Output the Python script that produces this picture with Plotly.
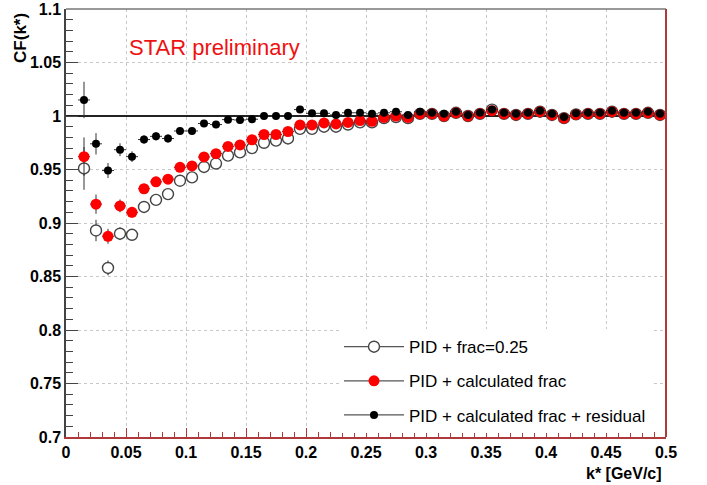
import plotly.graph_objects as go

k = [0.015, 0.025, 0.035, 0.045, 0.055, 0.065, 0.075, 0.085, 0.095, 0.105,
     0.115, 0.125, 0.135, 0.145, 0.155, 0.165, 0.175, 0.185, 0.195, 0.205,
     0.215, 0.225, 0.235, 0.245, 0.255, 0.265, 0.275, 0.285, 0.295, 0.305,
     0.315, 0.325, 0.335, 0.345, 0.355, 0.365, 0.375, 0.385, 0.395, 0.405,
     0.415, 0.425, 0.435, 0.445, 0.455, 0.465, 0.475, 0.485, 0.495]

cf_frac025 = [0.951, 0.893, 0.858, 0.890, 0.889, 0.915, 0.9216, 0.927, 0.9395, 0.9426,
              0.9524, 0.9556, 0.963, 0.966, 0.970, 0.975, 0.977, 0.979, 0.988, 0.988,
              0.990, 0.990, 0.992, 0.994, 0.994, 0.998, 0.999, 0.998, 1.002, 1.002,
              1.000, 1.003, 1.000, 1.002, 1.006, 1.002, 1.001, 1.002, 1.004, 1.001,
              0.998, 1.0015, 1.002, 1.002, 1.004, 1.002, 1.002, 1.003, 1.001]
err_frac025 = [0.020, 0.010, 0.007, 0.006, 0.005, 0.004, 0.004, 0.004, 0.003, 0.003,
               0.003, 0.003, 0.003, 0.003, 0.002, 0.002, 0.002, 0.002, 0.002, 0.002,
               0.002, 0.002, 0.002, 0.002, 0.002, 0.002, 0.002, 0.002, 0.002, 0.002,
               0.002, 0.002, 0.002, 0.002, 0.002, 0.002, 0.002, 0.002, 0.002, 0.002,
               0.002, 0.002, 0.002, 0.002, 0.002, 0.002, 0.002, 0.002, 0.002]

cf_calc = [0.962, 0.9176, 0.8876, 0.916, 0.910, 0.932, 0.9385, 0.941, 0.952, 0.9533,
           0.9617, 0.9648, 0.9716, 0.973, 0.9778, 0.9827, 0.9827, 0.9855, 0.9917, 0.9917,
           0.9935, 0.9926, 0.994, 0.9957, 0.995, 0.9987, 1.000, 0.9987, 1.002, 1.002,
           1.000, 1.003, 1.000, 1.002, 1.005, 1.002, 1.001, 1.002, 1.004, 1.001,
           0.998, 1.0015, 1.002, 1.002, 1.004, 1.002, 1.002, 1.003, 1.001]
err_calc = [0.018, 0.009, 0.007, 0.006, 0.005, 0.004, 0.004, 0.004, 0.003, 0.003,
            0.003, 0.003, 0.003, 0.003, 0.002, 0.002, 0.002, 0.002, 0.002, 0.002,
            0.002, 0.002, 0.002, 0.002, 0.002, 0.002, 0.002, 0.002, 0.002, 0.002,
            0.002, 0.002, 0.002, 0.002, 0.002, 0.002, 0.002, 0.002, 0.002, 0.002,
            0.002, 0.002, 0.002, 0.002, 0.002, 0.002, 0.002, 0.002, 0.002]

cf_resid = [1.015, 0.974, 0.949, 0.9685, 0.962, 0.978, 0.981, 0.979, 0.986, 0.986,
            0.993, 0.992, 0.9966, 0.9963, 0.997, 1.000, 1.000, 1.000, 1.006, 1.0025,
            1.0025, 1.001, 1.003, 1.003, 1.002, 1.003, 1.004, 1.001, 1.004, 1.003,
            1.002, 1.004, 1.001, 1.003, 1.006, 1.003, 1.002, 1.003, 1.005, 1.002,
            0.999, 1.0025, 1.003, 1.003, 1.005, 1.003, 1.003, 1.004, 1.002]
err_resid = [0.017, 0.010, 0.007, 0.006, 0.005, 0.004, 0.004, 0.004, 0.003, 0.003,
             0.003, 0.003, 0.003, 0.003, 0.002, 0.002, 0.002, 0.002, 0.002, 0.002,
             0.002, 0.002, 0.002, 0.002, 0.002, 0.002, 0.002, 0.002, 0.002, 0.002,
             0.002, 0.002, 0.002, 0.002, 0.002, 0.002, 0.002, 0.002, 0.002, 0.002,
             0.002, 0.002, 0.002, 0.002, 0.002, 0.002, 0.002, 0.002, 0.002]

half_bin = 0.005
x_range = [0.0, 0.5]
y_range = [0.7, 1.1]
ref_level = 1.0
names = ["PID + frac=0.25", "PID + calculated frac", "PID + calculated frac + residual"]

FONT = "Liberation Sans, Arial, sans-serif"
RED_AX = "#b03a3a"

fig = go.Figure()

# reference line CF = 1 (drawn first so markers sit on top of it)
fig.add_trace(go.Scatter(x=x_range, y=[ref_level, ref_level], mode="lines",
                         showlegend=False, hoverinfo="skip",
                         line=dict(color="#222", width=2)))

def add_series(y, err, name, msize, mcolor, mline_color, mline_w, symbol):
    fig.add_trace(go.Scatter(
        x=k, y=y, mode="markers", showlegend=False, name=name,
        marker=dict(size=msize, color=mcolor, symbol=symbol,
                    line=dict(color=mline_color, width=mline_w)),
        error_y=dict(type="data", array=err, color="#333", thickness=1, width=0),
        error_x=dict(type="constant", value=half_bin, color="#333", thickness=1, width=0),
    ))
    fig.add_trace(go.Scatter(
        x=[None], y=[None], mode="lines+markers", name=name, legendgroup=name,
        line=dict(color="#555", width=1.3),
        marker=dict(size=msize, color=mcolor, symbol=symbol,
                    line=dict(color=mline_color, width=mline_w)),
    ))

add_series(cf_frac025, err_frac025, names[0], 11, "white", "#444", 1.4, "circle")
add_series(cf_calc, err_calc, names[1], 11, "#ff0000", "#ff0000", 0, "circle")
add_series(cf_resid, err_resid, names[2], 8, "black", "black", 0, "circle")

# frame (top grey, right red)
fig.add_shape(type="line", xref="paper", yref="paper", x0=0, x1=1, y0=1, y1=1,
              line=dict(color="#777", width=1.5))
fig.add_shape(type="line", xref="paper", yref="paper", x0=1, x1=1, y0=0, y1=1,
              line=dict(color=RED_AX, width=2))

fig.add_annotation(text="STAR preliminary", xref="paper", yref="paper",
                   x=0.101, y=0.909, xanchor="left", yanchor="middle", showarrow=False,
                   font=dict(family=FONT, size=22, color="#ee1111"))
fig.add_annotation(text="CF(k*)", xref="paper", yref="paper",
                   x=-0.077, y=0.932, xanchor="center", yanchor="middle", showarrow=False,
                   textangle=-90, font=dict(family=FONT, size=17, color="black", weight="bold"))
fig.add_annotation(text="k* [GeV/c]", xref="paper", yref="paper",
                   x=0.997, y=-0.086, xanchor="right", yanchor="middle", showarrow=False,
                   font=dict(family=FONT, size=16, color="black", weight="bold"))

fig.update_xaxes(range=x_range, dtick=0.05, tick0=0, ticks="inside", ticklen=9,
                 tickcolor=RED_AX, tickwidth=1, automargin=False,
                 minor=dict(dtick=0.01, ticks="inside", ticklen=5, tickcolor=RED_AX, showgrid=False),
                 showline=True, linecolor=RED_AX, linewidth=2, mirror=False,
                 showgrid=True, gridcolor="#c8c8c8", griddash="dot", gridwidth=1,
                 zeroline=False,
                 tickfont=dict(family=FONT, size=16, color="black", weight="bold"))
fig.update_yaxes(range=y_range, dtick=0.05, tick0=0.7, ticks="inside", ticklen=12,
                 tickcolor="#444", tickwidth=1, automargin=False,
                 minor=dict(dtick=0.01, ticks="inside", ticklen=7, tickcolor="#444", showgrid=False),
                 showline=True, linecolor="#444", linewidth=1.5, mirror=False,
                 showgrid=True, gridcolor="#c8c8c8", griddash="dot", gridwidth=1,
                 zeroline=False,
                 tickfont=dict(family=FONT, size=16, color="black", weight="bold"))

fig.update_layout(
    width=707, height=485,
    margin=dict(l=66, r=41, t=9, b=48),
    paper_bgcolor="white", plot_bgcolor="white",
    showlegend=True,
    legend=dict(x=0.455, y=0.252, xanchor="left", yanchor="top",
                bgcolor="white", borderwidth=0, tracegroupgap=9, itemwidth=60,
                font=dict(family=FONT, size=17, color="black")),
)

fig.write_html("out.html")
